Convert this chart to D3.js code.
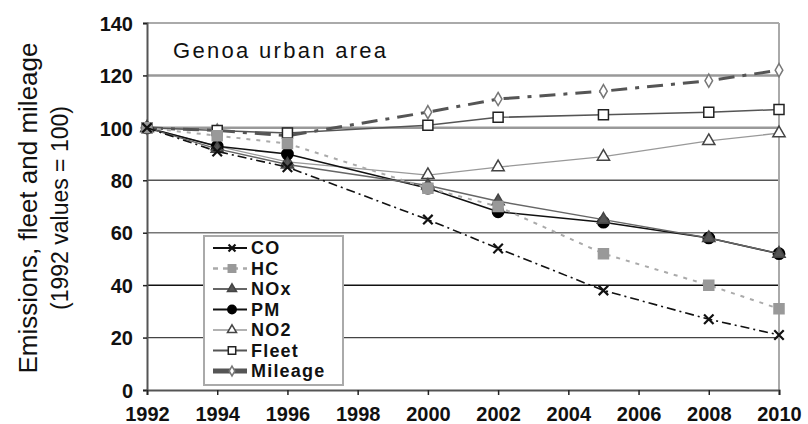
<!DOCTYPE html>
<html>
<head>
<meta charset="utf-8" />
<title>Genoa urban area</title>
<style>
  body { margin: 0; background: #fff; }
  text { font-family: "Liberation Sans", Arial, sans-serif; }
</style>
</head>
<body>
<script src="https://cdn.jsdelivr.net/npm/d3@7"></script>
<script>

var years = [1992, 1994, 1996, 2000, 2002, 2005, 2008, 2010];
var co = [100, 91, 85, 65, 54, 38, 27, 21];
var hc = [100, 97, 94, 77, 70, 52, 40, 31];
var nox = [100, 92, 86, 78, 72, 65, 58, 52];
var pm = [100, 93, 90, 77, 68, 64, 58, 52];
var no2 = [100, 93, 87, 82, 85, 89, 95, 98];
var fleet = [100, 99, 98, 101, 104, 105, 106, 107];
var mileage = [100, 99, 97, 106, 111, 114, 118, 122];

var seriesNames = ["CO", "HC", "NOx", "PM", "NO2", "Fleet", "Mileage"];
var yTicks = [0, 20, 40, 60, 80, 100, 120, 140];
var xTicks = [1992, 1994, 1996, 1998, 2000, 2002, 2004, 2006, 2008, 2010];

var width = 808, height = 424;
var margin = {left: 147, right: 29, top: 23, bottom: 34};

var svg = d3.select("body").append("svg")
    .attr("width", width)
    .attr("height", height);

var x = d3.scaleLinear().domain([1992, 2010]).range([margin.left, width - margin.right]);
var y = d3.scaleLinear().domain([0, 140]).range([height - margin.bottom, margin.top]);

// gridlines, the scan shows them in uneven greys
var gridStyle = {
    140: ["#aaa", 2], 120: ["#999", 2.5], 100: ["#999", 2.5], 80: ["#555", 1.5],
    60: ["#777", 1.5], 40: ["#111", 1.5], 20: ["#444", 1.2]
};
svg.append("g").selectAll("line")
    .data(yTicks.filter(d => d > 0))
    .enter().append("line")
    .attr("x1", x(1992)).attr("x2", x(2010))
    .attr("y1", d => y(d)).attr("y2", d => y(d))
    .attr("stroke", d => gridStyle[d][0])
    .attr("stroke-width", d => gridStyle[d][1]);

// right frame
svg.append("line")
    .attr("x1", x(2010)).attr("x2", x(2010))
    .attr("y1", y(140)).attr("y2", y(0))
    .attr("stroke", "#aaa").attr("stroke-width", 2);

// axes
var yAxis = svg.append("g")
    .attr("transform", "translate(" + x(1992) + ",0)")
    .call(d3.axisLeft(y).tickValues(yTicks).tickSize(4).tickPadding(10));
var xAxis = svg.append("g")
    .attr("transform", "translate(0," + y(0) + ")")
    .call(d3.axisBottom(x).tickValues(xTicks).tickFormat(d3.format("d")).tickSize(5).tickPadding(12));

[xAxis, yAxis].forEach(function(a){
    a.select(".domain").attr("stroke", "#555").attr("stroke-width", 2);
    a.selectAll(".tick line").attr("stroke", "#222").attr("stroke-width", 1.5);
    a.selectAll("text")
        .attr("fill", "#111")
        .style("font-size", "20px")
        .style("font-weight", "bold")
        .style("font-family", "'Liberation Sans', Arial, sans-serif");
});
yAxis.selectAll("text").attr("dy", "0.36em");

// y title
var yTitle = svg.append("text")
    .attr("transform", "translate(37,208) rotate(-90)")
    .attr("text-anchor", "middle")
    .attr("fill", "#111");
yTitle.append("tspan").attr("x", 0).attr("dy", 0)
    .style("font-size", "26px").text("Emissions, fleet and mileage");
yTitle.append("tspan").attr("x", 0).attr("dy", 31)
    .style("font-size", "23px").text("(1992 values = 100)");

svg.append("text")
    .attr("x", 173).attr("y", 58)
    .attr("fill", "#111")
    .style("font-size", "22px")
    .style("letter-spacing", "2.3px")
    .text("Genoa urban area");

// series styling
var styles = {
    "CO": {values: co, stroke: "#111", width: 1.6, dash: "9,4,2,4", marker: "x", fill: "#111"},
    "HC": {values: hc, stroke: "#aaa", width: 2, dash: "4,6", marker: "square", fill: "#999", mstroke: "#999"},
    "NOx": {values: nox, stroke: "#666", width: 1.4, dash: null, marker: "triangle", fill: "#555", mstroke: "#444"},
    "PM": {values: pm, stroke: "#111", width: 1.6, dash: null, marker: "circle", fill: "#000", mstroke: "#000"},
    "NO2": {values: no2, stroke: "#999", width: 1.3, dash: null, marker: "triangle", fill: "#fff", mstroke: "#444"},
    "Fleet": {values: fleet, stroke: "#555", width: 1.5, dash: null, marker: "square", fill: "#fff", mstroke: "#222"},
    "Mileage": {values: mileage, stroke: "#555", width: 3, dash: "16,8,4,8", marker: "diamond", fill: "#fff", mstroke: "#777"}
};

var symbolType = {
    square: d3.symbolSquare, circle: d3.symbolCircle,
    triangle: d3.symbolTriangle, diamond: d3.symbolDiamond, x: d3.symbolTimes
};
var symbolSize = {square: 100, circle: 100, triangle: 65, diamond: 50, x: 60};

var line = d3.line().x(d => x(d[0])).y(d => y(d[1]));

function drawMarker(g, type, st, px, py, scale) {
    var sym = d3.symbol().type(symbolType[type]).size(symbolSize[type] * scale);
    var p = g.append("path")
        .attr("d", sym())
        .attr("transform", "translate(" + px + "," + py + ")");
    if (type == "x") {
        p.attr("fill", "none").attr("stroke", st.fill).attr("stroke-width", 2.2);
    } else {
        p.attr("fill", st.fill).attr("stroke", st.mstroke).attr("stroke-width", 1.5);
    }
}

var plot = svg.append("g");
seriesNames.slice().reverse().forEach(function(name){
    var st = styles[name];
    var pts = years.map((yr, i) => [yr, st.values[i]]);
    plot.append("path")
        .datum(pts)
        .attr("fill", "none")
        .attr("stroke", st.stroke)
        .attr("stroke-width", st.width)
        .attr("stroke-dasharray", st.dash)
        .attr("d", line);
    var mg = plot.append("g");
    pts.forEach(function(p){
        drawMarker(mg, st.marker, st, x(p[0]), y(p[1]), 1);
    });
});

// legend
var legend = svg.append("g").attr("transform", "translate(204,236)");
legend.append("rect")
    .attr("width", 139).attr("height", 149)
    .attr("fill", "#fff")
    .attr("stroke", "#aaa").attr("stroke-width", 2);

seriesNames.forEach(function(name, i){
    var st = styles[name];
    var ly = 12 + i * 20.5;
    legend.append("line")
        .attr("x1", 9).attr("x2", 43)
        .attr("y1", ly).attr("y2", ly)
        .attr("stroke", st.stroke)
        .attr("stroke-width", name == "Mileage" ? 5 : st.width + 0.4)
        .attr("stroke-dasharray", name == "HC" ? "5,5" : null);
    drawMarker(legend, st.marker, st, 28, ly, 0.55);
    legend.append("text")
        .attr("x", 47).attr("y", ly)
        .attr("dy", "0.36em")
        .attr("fill", "#111")
        .style("font-size", "18px")
        .style("font-weight", "bold")
        .style("letter-spacing", "1.2px")
        .text(name);
});

</script>
</body>
</html>
